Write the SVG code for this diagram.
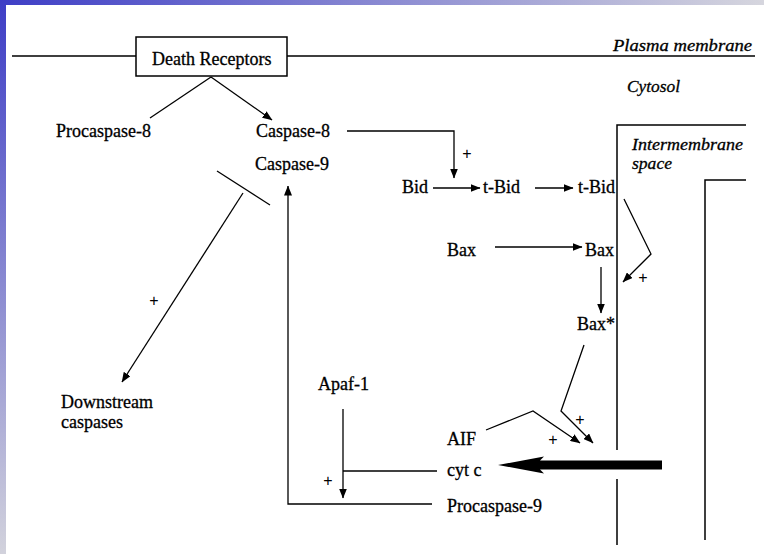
<svg xmlns="http://www.w3.org/2000/svg" width="764" height="554" viewBox="0 0 764 554">
  <defs>
    <linearGradient id="barTop" x1="0" y1="0" x2="1" y2="0">
      <stop offset="0" stop-color="#3e3ec6"/>
      <stop offset="1" stop-color="#d6d6de"/>
    </linearGradient>
    <linearGradient id="barLeft" x1="0" y1="0" x2="0" y2="1">
      <stop offset="0" stop-color="#3e3ec6"/>
      <stop offset="1" stop-color="#d2d2dc"/>
    </linearGradient>
    <marker id="arrow" markerUnits="userSpaceOnUse" markerWidth="10" markerHeight="8" refX="9.5" refY="4" orient="auto">
      <path d="M0,0 L10,4 L0,8 z" fill="#000"/>
    </marker>
    <style>
      .lbl { font-family: "Liberation Serif", "Times New Roman", serif; font-size: 18px; fill: #000; stroke: #000; stroke-width: 0.3; }
      .ital { font-family: "Liberation Serif", "Times New Roman", serif; font-style: italic; font-size: 17px; fill: #000; stroke: #000; stroke-width: 0.3; }
      .plus { font-family: "Liberation Sans", Arial, sans-serif; font-size: 16px; fill: #000; text-anchor: middle; }
      .ln { fill: none; stroke: #000; stroke-width: 1.3; }
      .arr { fill: none; stroke: #000; stroke-width: 1.3; marker-end: url(#arrow); }
      .mem { fill: none; stroke: #000; stroke-width: 1.5; }
    </style>
  </defs>

  <!-- page background with slide border bars -->
  <rect x="0" y="0" width="764" height="554" fill="#fff"/>
  <rect x="0" y="0" width="764" height="5" fill="url(#barTop)"/>
  <rect x="0" y="0" width="6" height="554" fill="url(#barLeft)"/>

  <!-- membranes -->
  <g id="membranes">
    <path class="mem" d="M12,56 H136 M287,56 H755"/>
    <path class="mem" d="M746,125 H617 V450 M617,479 V545"/>
    <path class="mem" d="M746,180 H705 V540"/>
  </g>

  <!-- compartment labels -->
  <g id="regions">
    <text class="ital" x="613" y="51" textLength="139" lengthAdjust="spacingAndGlyphs">Plasma membrane</text>
    <text class="ital" x="627" y="92" textLength="53" lengthAdjust="spacingAndGlyphs">Cytosol</text>
    <text class="ital" x="632" y="150" font-size="14" textLength="111" lengthAdjust="spacingAndGlyphs">Intermembrane</text>
    <text class="ital" x="632" y="169" font-size="14" textLength="40" lengthAdjust="spacingAndGlyphs">space</text>
  </g>

  <!-- nodes -->
  <g id="death-receptors">
    <rect x="136" y="37" width="151" height="39" fill="#fff" stroke="#000" stroke-width="1.5"/>
    <text class="lbl" x="152" y="65">Death Receptors</text>
  </g>
  <g id="procaspase-8"><text class="lbl" x="56" y="137">Procaspase-8</text></g>
  <g id="caspase-8"><text class="lbl" x="256" y="137">Caspase-8</text></g>
  <g id="caspase-9"><text class="lbl" x="255" y="170">Caspase-9</text></g>
  <g id="bid"><text class="lbl" x="402" y="193">Bid</text></g>
  <g id="t-bid-1"><text class="lbl" x="483" y="193">t-Bid</text></g>
  <g id="t-bid-2"><text class="lbl" x="578" y="193">t-Bid</text></g>
  <g id="bax-1"><text class="lbl" x="447" y="256">Bax</text></g>
  <g id="bax-2"><text class="lbl" x="585" y="256">Bax</text></g>
  <g id="bax-active"><text class="lbl" x="577" y="330">Bax*</text></g>
  <g id="aif"><text class="lbl" x="447" y="445">AIF</text></g>
  <g id="cyt-c"><text class="lbl" x="447" y="476">cyt c</text></g>
  <g id="procaspase-9"><text class="lbl" x="447" y="512">Procaspase-9</text></g>
  <g id="apaf-1"><text class="lbl" x="318" y="390">Apaf-1</text></g>
  <g id="downstream-caspases">
    <text class="lbl" x="61" y="408">Downstream</text>
    <text class="lbl" x="61" y="428">caspases</text>
  </g>

  <!-- connectors -->
  <g id="connectors">
    <path class="ln" d="M211,77 L150,118"/>
    <path class="arr" d="M211,77 L272,120"/>
    <path class="arr" d="M347,131 H454 V178"/>
    <path class="arr" d="M433,188 H480"/>
    <path class="arr" d="M535,188 H573"/>
    <path class="arr" d="M624,199 L651,254 L623,282"/>
    <path class="arr" d="M495,247 H582"/>
    <path class="arr" d="M601,267 V313"/>
    <path class="arr" d="M584,345 L561,411 L593,443"/>
    <path class="arr" d="M486,430 L533,411 L580,443"/>
    <path class="ln" d="M437,471 H343"/>
    <path class="arr" d="M343,409 V498"/>
    <path class="arr" d="M432,504 H288 V186"/>
    <path class="arr" d="M243,193 L122,382"/>
    <path class="ln" d="M217,171 L270,205" stroke-width="1.5"/>
    <!-- cytochrome c release through the outer membrane -->
    <path d="M498,465 L544,456.5 L540,460.5 H662 V469.5 H540 L544,473.5 Z" fill="#000"/>
  </g>

  <!-- activation marks -->
  <g id="plus-signs">
    <text class="plus" x="467" y="159">+</text>
    <text class="plus" x="643" y="283">+</text>
    <text class="plus" x="580" y="425">+</text>
    <text class="plus" x="553" y="445">+</text>
    <text class="plus" x="154" y="306">+</text>
    <text class="plus" x="328" y="486">+</text>
  </g>
</svg>
